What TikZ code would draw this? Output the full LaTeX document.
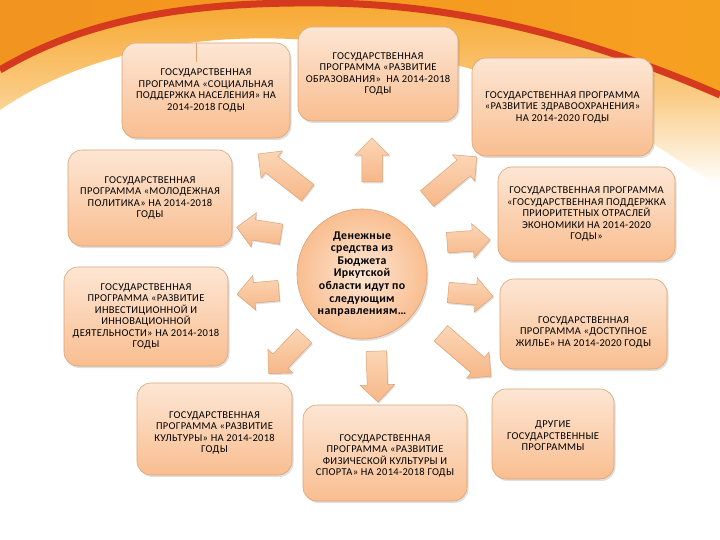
\documentclass[tikz,border=0pt]{standalone}
\usepackage{fontspec}
\setmainfont{Carlito}
\newfontfamily\boxfont[LetterSpace=3]{Carlito}
\usetikzlibrary{shapes.arrows,shadows,calc}
\definecolor{orL}{HTML}{F29420}
\definecolor{orR}{HTML}{F6A020}
\definecolor{arcred}{HTML}{D63A1E}
\definecolor{glow}{HTML}{F7A830}
\definecolor{boxtop}{HTML}{FDE6D4}
\definecolor{boxbot}{HTML}{F9BE90}
\definecolor{boxline}{HTML}{DDA273}
\definecolor{arrtop}{HTML}{FBD6B6}
\definecolor{arrbot}{HTML}{F7B788}
\tikzset{
  pbox/.style={rounded corners=14pt, draw=boxline, line width=0.6pt,
    top color=boxtop, bottom color=boxbot, align=center, inner sep=2pt,
    font=\boxfont\fontsize{10.5}{11.5}\selectfont,
    drop shadow={shadow xshift=1.5pt, shadow yshift=-2pt, opacity=.25}},
  ptext/.style={align=center, font=\boxfont\fontsize{10.5}{11.5}\selectfont},
  barrow/.style={single arrow, draw=boxline, line width=0.5pt,
    top color=arrtop, bottom color=arrbot, minimum width=0pt,
    inner xsep=0pt, inner ysep=10pt,
    single arrow head extend=7pt,
    drop shadow={shadow xshift=1pt, shadow yshift=-1.5pt, opacity=.25}},
}
\begin{document}
\begin{tikzpicture}[x=1pt,y=-1pt]
\useasboundingbox (0,0) rectangle (720,540);
\fill[white] (0,0) rectangle (720,540);
% glow band under the arc
\shade[top color=glow, bottom color=white, middle color=glow!60]
  (0,70) .. controls (100,10) and (220,2) .. (325,3)
  .. controls (430,4) and (560,25) .. (720,95)
  -- (720,185) .. controls (670,165) and (610,80) .. (330,42)
  .. controls (200,28) and (80,55) .. (0,110) -- cycle;
% top orange background
\shade[left color=orL, right color=orR]
  (0,0) -- (0,70) .. controls (100,10) and (220,2) .. (325,3)
  .. controls (430,4) and (560,25) .. (720,95) -- (720,0) -- cycle;
% red arc
\draw[arcred, line width=7pt]
  (0,70) .. controls (100,10) and (220,2) .. (325,3)
  .. controls (430,4) and (560,25) .. (720,95);

% program boxes
\node[pbox, minimum width=168pt, minimum height=95pt] (soc) at (206,90.5)
  {ГОСУДАРСТВЕННАЯ\\ПРОГРАММА «СОЦИАЛЬНАЯ\\ПОДДЕРЖКА НАСЕЛЕНИЯ» НА\\2014-2018 ГОДЫ};
\node[pbox, minimum width=160pt, minimum height=94pt] (edu) at (378,74)
  {ГОСУДАРСТВЕННАЯ\\ПРОГРАММА «РАЗВИТИЕ\\ОБРАЗОВАНИЯ»\ \ НА 2014-2018\\ГОДЫ};
\node[pbox, minimum width=181pt, minimum height=98pt] (hlth) at (562.5,107)
  {ГОСУДАРСТВЕННАЯ ПРОГРАММА\\«РАЗВИТИЕ ЗДРАВООХРАНЕНИЯ»\\НА 2014-2020 ГОДЫ};
\node[pbox, minimum width=164pt, minimum height=96pt] (youth) at (150,198)
  {ГОСУДАРСТВЕННАЯ\\ПРОГРАММА «МОЛОДЕЖНАЯ\\ПОЛИТИКА» НА 2014-2018\\ГОДЫ};
\node[pbox, minimum width=177pt, minimum height=94pt] (gsup) at (586.5,214)
  {ГОСУДАРСТВЕННАЯ ПРОГРАММА\\«ГОСУДАРСТВЕННАЯ ПОДДЕРЖКА\\ПРИОРИТЕТНЫХ ОТРАСЛЕЙ\\ЭКОНОМИКИ НА 2014-2020\\ГОДЫ»};
\node[pbox, minimum width=164pt, minimum height=99pt] (inv) at (146,316.5)
  {ГОСУДАРСТВЕННАЯ\\ПРОГРАММА «РАЗВИТИЕ\\ИНВЕСТИЦИОННОЙ И\\ИННОВАЦИОННОЙ\\ДЕЯТЕЛЬНОСТИ» НА 2014-2018\\ГОДЫ};
\node[pbox, minimum width=167pt, minimum height=90pt] (hous) at (583.5,324) {};
\node[ptext] (houst) at (583.5,332)
  {ГОСУДАРСТВЕННАЯ\\ПРОГРАММА «ДОСТУПНОЕ\\ЖИЛЬЕ» НА 2014-2020 ГОДЫ};
\node[pbox, minimum width=155pt, minimum height=92pt] (cult) at (214.5,429) {};
\node[ptext] (cultt) at (214.5,433)
  {ГОСУДАРСТВЕННАЯ\\ПРОГРАММА «РАЗВИТИЕ\\КУЛЬТУРЫ» НА 2014-2018\\ГОДЫ};
\node[pbox, minimum width=164pt, minimum height=96pt] (sport) at (385,453) {};
\node[ptext] (sportt) at (385,456)
  {ГОСУДАРСТВЕННАЯ\\ПРОГРАММА «РАЗВИТИЕ\\ФИЗИЧЕСКОЙ КУЛЬТУРЫ И\\СПОРТА» НА 2014-2018 ГОДЫ};
\node[pbox, minimum width=122pt, minimum height=90pt] (other) at (553,434) {};
\node[ptext] (othert) at (553,436)
  {ДРУГИЕ\\ГОСУДАРСТВЕННЫЕ\\ПРОГРАММЫ};
\draw[boxline, line width=0.6pt] ($(soc.north)+(-10,0)$) -- ++(0,19);

% central circle
\node[circle, draw=boxline, line width=0.6pt, minimum size=130pt, inner sep=0pt,
  inner color=boxtop, outer color=boxbot, align=center,
  font=\boxfont\bfseries\fontsize{11.8}{12.6}\selectfont,
  drop shadow={shadow xshift=1.5pt, shadow yshift=-2pt, opacity=.25}] (c) at (362,274)
  {Денежные\\средства из\\Бюджета\\Иркутской\\области идут по\\следующим\\направлениям…};

% block arrows
\node[barrow, minimum height=44pt, rotate=90]    (a1)  at (372,165) {};
\node[barrow, minimum height=63pt, rotate=142]   (a2)  at (287,176.5) {};
\node[barrow, minimum height=65pt, rotate=40]    (a3)  at (448,181) {};
\node[barrow, minimum height=45pt, rotate=171]   (a4)  at (264,231.5) {};
\node[barrow, minimum height=42pt, rotate=185]   (a5)  at (263,292) {};
\node[barrow, minimum height=52pt, rotate=226.5] (a6)  at (290,351) {};
\node[barrow, minimum height=51pt, rotate=-88]   (a7)  at (377,371.5) {};
\node[barrow, minimum height=43pt, rotate=4]     (a8)  at (463.5,241.5) {};
\node[barrow, minimum height=45pt, rotate=-5]    (a9)  at (465.5,294) {};
\node[barrow, minimum height=66pt, rotate=-40.7] (a10) at (462,351.5) {};
\end{tikzpicture}
\end{document}
